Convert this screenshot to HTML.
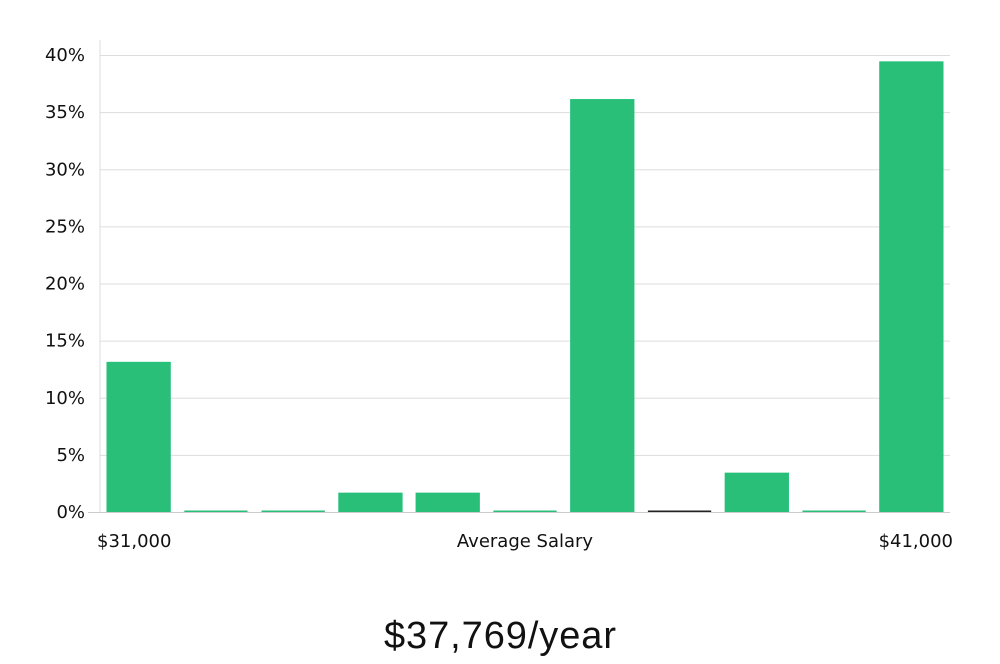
<!DOCTYPE html>
<html><head><meta charset="utf-8"><style>
html,body{margin:0;padding:0;background:#fff;}
body{width:1000px;height:660px;overflow:hidden;font-family:"DejaVu Sans","Liberation Sans",sans-serif;}
</style></head><body>
<svg id="chart" width="1000" height="660" xmlns="http://www.w3.org/2000/svg">
<g id="grid"></g>
<g id="yt"></g>
<g id="bars"></g>
<line x1="100" y1="40" x2="100" y2="512" stroke="#ddd"/>
<line x1="88" y1="512.5" x2="950" y2="512.5" stroke="#ccc"/>
<text x="97" y="547" font-size="18" fill="#111">$31,000</text>
<text x="525" y="547" font-size="18" fill="#111" text-anchor="middle">Average Salary</text>
<text x="953" y="547" font-size="18" fill="#111" text-anchor="end">$41,000</text>
<text x="500" y="648" font-size="38" fill="#111" text-anchor="middle" font-family="'Liberation Sans Narrow','Liberation Sans',sans-serif" style="font-weight:300" textLength="232">$37,769/year</text>
</svg>
<script>
const categories = ["b1","b2","b3","b4","b5","b6","b7","b8","b9","b10","b11"];
const values = [13.1, 0, 0, 1.65, 1.65, 0, 36.1, 0, 3.4, 0, 39.4];
const yTicks = [0,5,10,15,20,25,30,35,40];
const NS="http://www.w3.org/2000/svg";
const x0=100,x1=950,yBase=512,yTop=55,yMax=40;
const y=v=>yBase-(v/yMax)*(yBase-yTop);
const slot=(x1-x0)/categories.length;
const g=document.getElementById('grid'),yt=document.getElementById('yt'),b=document.getElementById('bars');
yTicks.forEach(t=>{
  if(t>0){const l=document.createElementNS(NS,'line');
  l.setAttribute('x1',x0);l.setAttribute('x2',x1);l.setAttribute('y1',y(t)+0.5);l.setAttribute('y2',y(t)+0.5);l.setAttribute('stroke','#ddd');
  
  
  g.appendChild(l);}
  const tx=document.createElementNS(NS,'text');
  tx.setAttribute('x',85);tx.setAttribute('y',y(t)+6);tx.setAttribute('text-anchor','end');tx.setAttribute('font-size','18');tx.setAttribute('fill','#111');
  tx.textContent=t+'%';
  
  
  yt.appendChild(tx);
});
categories.forEach((c,i)=>{
  const v=values[i];
  const r=document.createElementNS(NS,'rect');
  const top=Math.min(y(v),yBase-1.5);
  r.setAttribute('x',x0+i*slot+7);r.setAttribute('width',slot-14);
  r.setAttribute('y',top);r.setAttribute('height',yBase-top);
  r.setAttribute('fill',i===7&&v===0?'#222':'#2abf78');
  if(v>0){r.setAttribute('stroke','#22c07a');}
  
  
  b.appendChild(r);
});
</script>
</body></html>
